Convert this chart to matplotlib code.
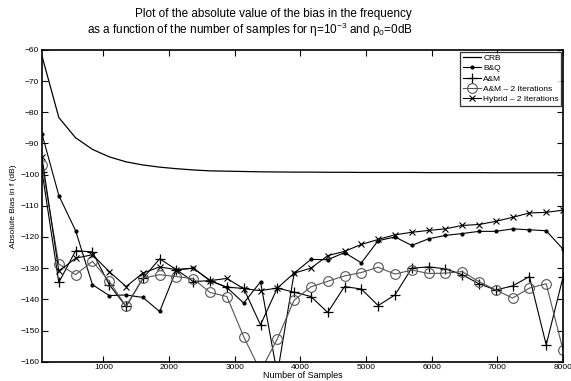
import matplotlib
matplotlib.use('Agg')
import matplotlib.pyplot as plt

plt.rcParams['font.family'] = ['Liberation Sans', 'DejaVu Sans']
plt.rcParams['mathtext.default'] = 'regular'

# number of samples (x axis)
samples = [64, 320, 576, 832, 1088, 1344, 1600, 1856, 2112, 2368, 2624, 2880,
           3136, 3392, 3648, 3904, 4160, 4416, 4672, 4928, 5184, 5440, 5696,
           5952, 6208, 6464, 6720, 6976, 7232, 7488, 7744, 8000]

# absolute bias in f (dB)
crb = [-62, -81.7, -88.2, -91.9, -94.3, -95.9, -96.9, -97.6, -98.1, -98.5,
       -98.8, -98.9, -99.0, -99.1, -99.15, -99.2, -99.2, -99.25, -99.25, -99.3,
       -99.3, -99.3, -99.3, -99.35, -99.35, -99.35, -99.35, -99.4, -99.4, -99.4,
       -99.4, -99.4]
bq = [-87, -106.7, -118, -135.3, -138.8, -138.6, -139.4, -143.9, -130.5, -130,
      -134, -136.2, -141.2, -134.4, -164, -131.6, -127.2, -127.3, -125, -128.3,
      -121.2, -120, -122.7, -120.6, -119.5, -118.9, -118.2, -118.2, -117.4,
      -117.7, -118, -123.9]
am = [-99, -134.6, -124.4, -124.8, -135.3, -142.3, -133.3, -127, -130.5, -134.3,
      -134, -136.1, -136.5, -148.2, -136.4, -137.7, -139.1, -144.2, -135.9,
      -136.7, -142, -138.6, -130, -129.6, -130.2, -132.1, -135, -137, -135.7,
      -132.7, -154.6, -132.9]
am2 = [-97, -128.7, -132.1, -127.8, -134.2, -142.3, -133.2, -132.1, -132.7,
       -133.4, -137.8, -139.1, -152, -163, -152.7, -140.3, -136, -134.2, -132.5,
       -131.4, -129.7, -131.9, -130.6, -131.7, -131.6, -131.1, -134.3, -137,
       -139.6, -136.4, -135, -156.2]
hybrid = [-94.5, -131, -126.8, -125.7, -131.1, -135.9, -131.6, -129.6, -130.5,
          -130, -134, -133.3, -136.6, -137.2, -136.4, -131.6, -130, -126, -124.6,
          -122.4, -120.8, -119.3, -118.5, -117.9, -117.4, -116.3, -116, -115,
          -113.7, -112.3, -112.1, -111.4]

fig = plt.figure(figsize=(5.71, 3.81), dpi=100)
ax = fig.add_axes([0.0736, 0.0507, 0.9124, 0.8183])

ax.plot(samples, crb, color='black', lw=0.9, label='CRB')
ax.plot(samples, bq, color='black', lw=0.8, marker='o', ms=2,
        label='B&Q')
ax.plot(samples, am, color='black', lw=0.8, marker='+', ms=7, mew=0.9,
        label='A&M')
ax.plot(samples, am2, color='#555555', lw=0.8, marker='o', ms=7,
        mfc='none', mec='#555555', mew=0.8, label='A&M – 2 Iterations')
ax.plot(samples, hybrid, color='black', lw=0.8, marker='x', ms=5, mew=0.8,
        label='Hybrid – 2 Iterations')

ax.set_xlim(64, 8000)
ax.set_ylim(-160, -60)
ax.set_xticks(range(1000, 8001, 1000))
ax.set_yticks(range(-160, -59, 10))
ax.tick_params(direction='in', top=True, right=True, labelsize=6,
               length=4, width=0.8, pad=2)
for s in ax.spines.values():
    s.set_linewidth(1.2)

ax.set_xlabel('Number of Samples', fontsize=6.5, labelpad=0)
ax.set_ylabel('Absolute Bias in f (dB)', fontsize=6, labelpad=2)

# two-line title, each line placed on its own
fig.text(0.479, 0.963, 'Plot of the absolute value of the bias in the frequency',
         ha='center', va='center', fontsize=8.5)
fig.text(0.438, 0.922, 'as a function of the number of samples for '
         'η=10$^{-3}$ and ρ$_0$=0dB',
         ha='center', va='center', fontsize=8.5)

leg = ax.legend(loc='upper right', fontsize=6, frameon=True, fancybox=False,
                borderpad=0.3, labelspacing=0.3, handlelength=2.2,
                handletextpad=0.3, borderaxespad=0.2)
leg.get_frame().set_edgecolor('black')
leg.get_frame().set_linewidth(0.9)

fig.savefig('out.png', dpi=100)
